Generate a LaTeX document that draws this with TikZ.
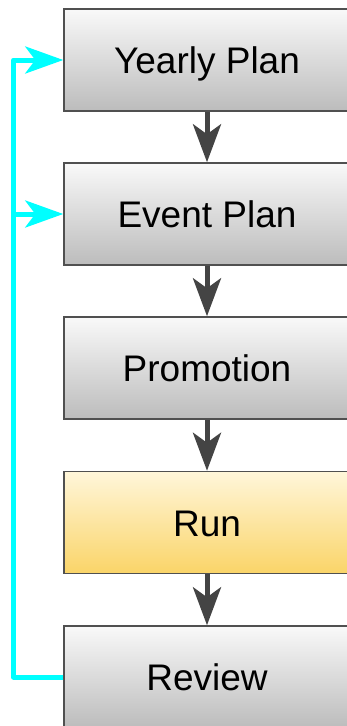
\documentclass[tikz,border=0pt]{standalone}
\usepackage{fontspec}
\setmainfont{Liberation Sans}
\usetikzlibrary{arrows.meta}
\definecolor{gtop}{RGB}{249,249,249}
\definecolor{gbot}{RGB}{188,188,188}
\definecolor{ytop}{RGB}{255,246,218}
\definecolor{ybot}{RGB}{250,212,104}
\definecolor{edge}{RGB}{80,80,80}
\definecolor{darr}{RGB}{68,68,68}
\definecolor{cyanl}{RGB}{0,255,255}
\tikzset{
  box/.style={draw=edge, line width=1.5pt, minimum width=286pt, minimum height=102pt,
    inner sep=0pt, text height=27pt, text depth=0pt,
    font=\fontsize{37}{44}\selectfont, top color=gtop, bottom color=gbot},
  runbox/.style={box, top color=ytop, bottom color=ybot},
  flow/.style={draw=darr, line width=5pt, -{Stealth[length=38pt, width=28pt, inset=10pt]}},
  back/.style={draw=cyanl, line width=5pt, line join=round, -{Stealth[length=38pt, width=27pt, inset=10pt]}}
}
\begin{document}
\begin{tikzpicture}[x=1pt,y=-1pt]
\useasboundingbox (0,0) rectangle (347,726);
\clip (0,0) rectangle (347,726);
\node[box] (yp) at (207,60) {Yearly Plan};
\node[box] (ep) at (207,214) {Event Plan};
\node[box] (pr) at (207,368) {Promotion};
\node[runbox] (rn) at (207,522.5) {Run};
\node[box] (rv) at (207,677) {Review};
\draw[flow] (yp) -- (ep);
\draw[flow] (ep) -- (pr);
\draw[flow] (pr) -- (rn);
\draw[flow] (rn) -- (rv);
\coordinate (c1) at (13.5,60);
\draw[back] (rv.west) -| (c1) -- (yp.west);
\draw[back] (c1 |- ep.west) -- (ep.west);
\end{tikzpicture}
\end{document}
